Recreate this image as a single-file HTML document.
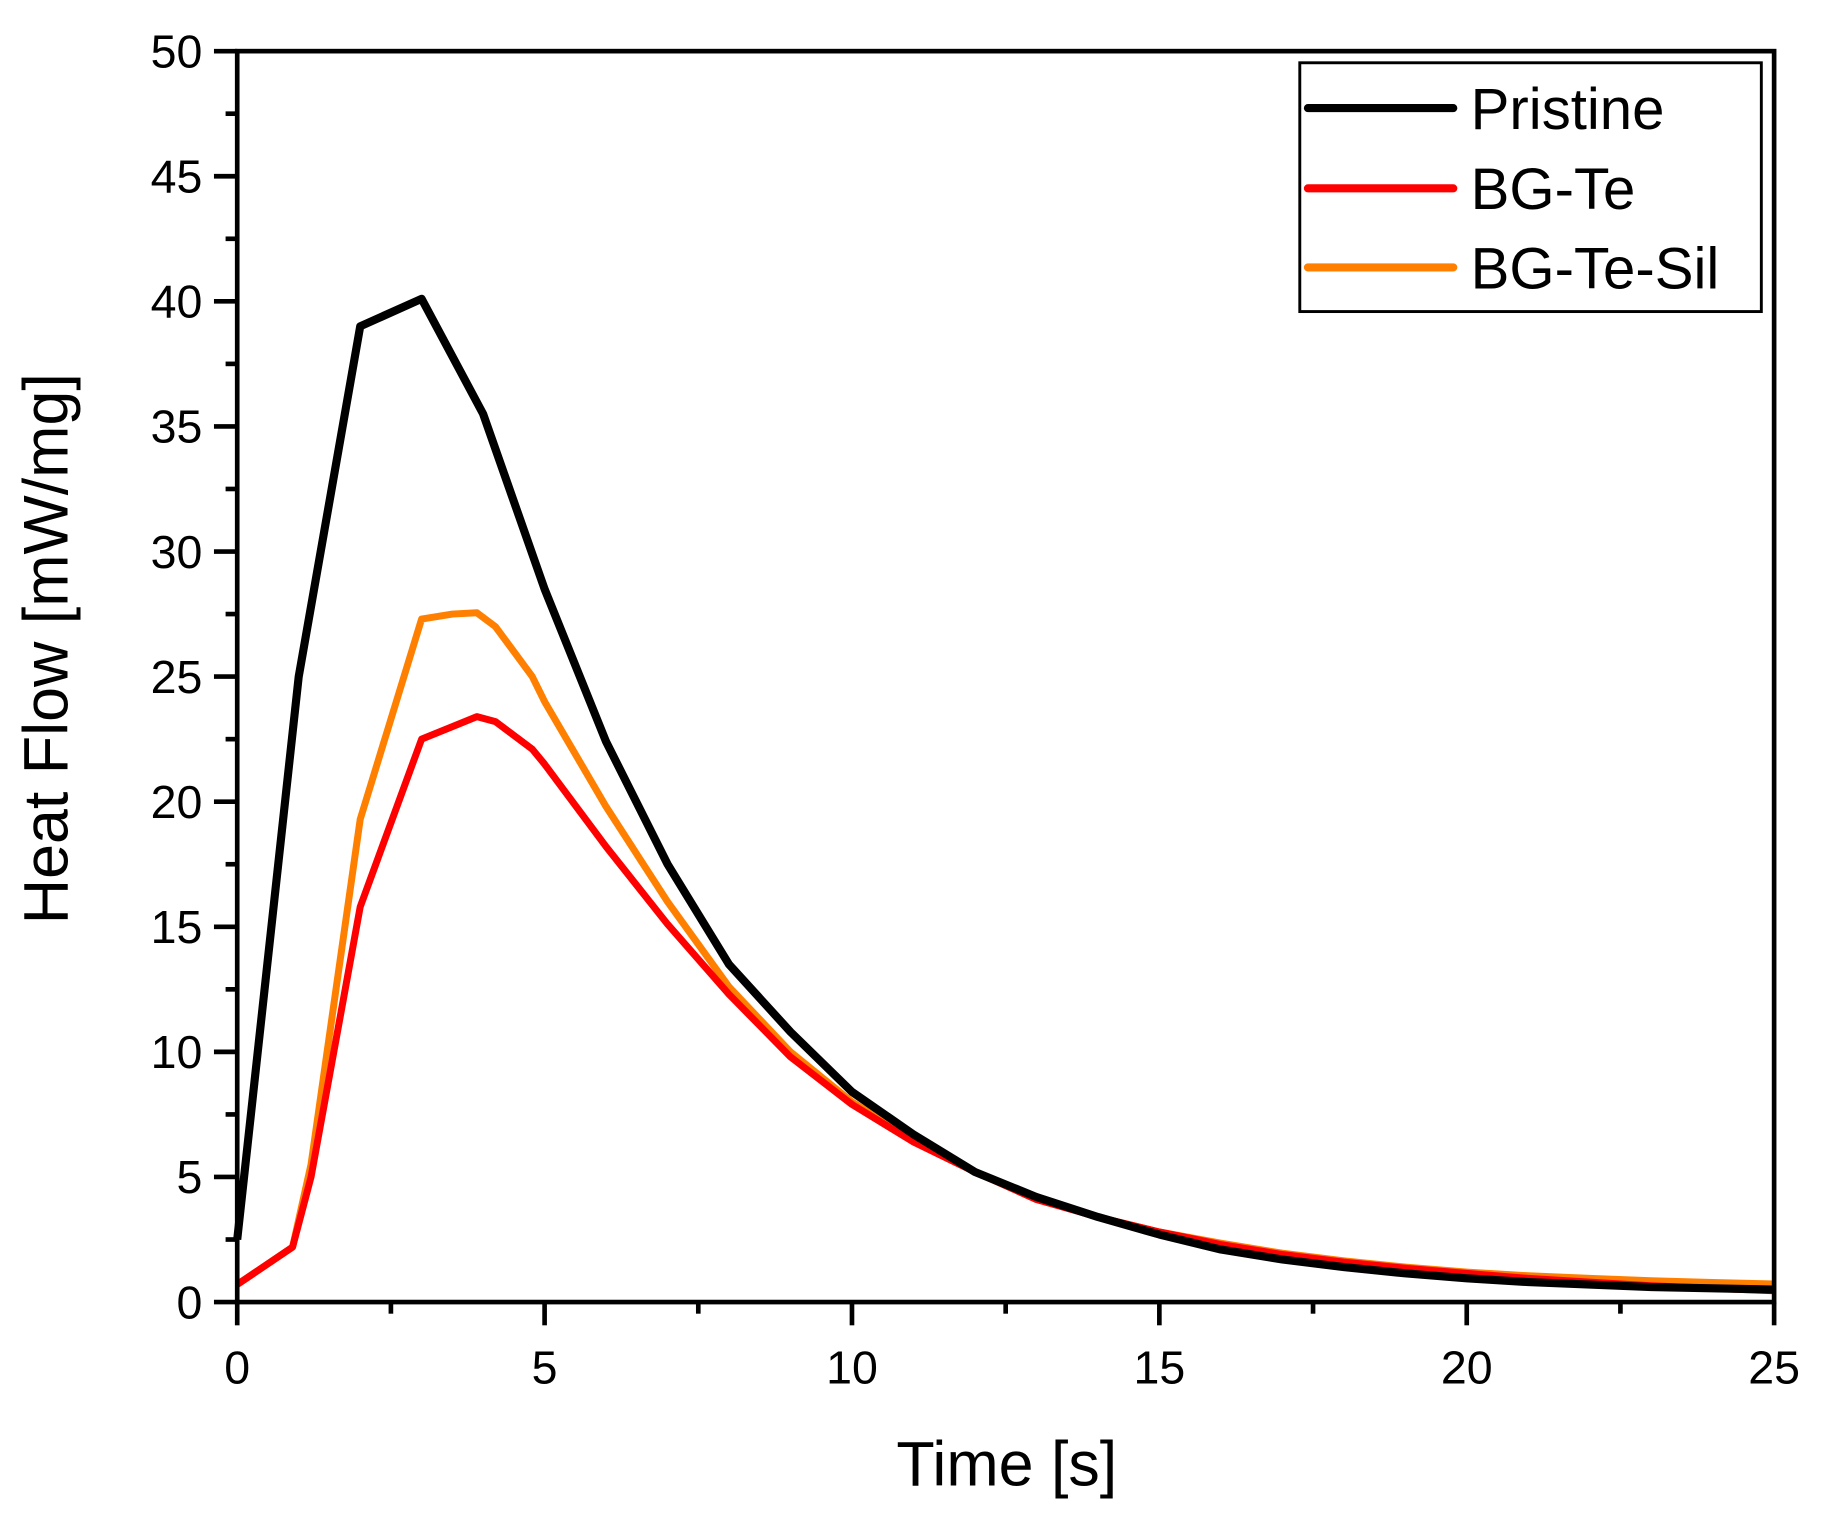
<!DOCTYPE html>
<html><head><meta charset="utf-8"><style>
html,body{margin:0;padding:0;background:#fff;}
svg{display:block;}
text{font-family:"Liberation Sans",Arial,sans-serif;fill:#000;}
</style></head><body>
<svg id="s" width="1823" height="1519" viewBox="0 0 1568 1306.6" xmlns="http://www.w3.org/2000/svg">
<g id="g"></g>
</svg>
<script>
const X=t=>204+t*52.88, Y=v=>1120-v*21.52;
const P=[[0,2.5],[0.2,7],[1,25],[2,39],[3,40.1],[4,35.5],[5,28.5],[6,22.4],[7,17.5],[8,13.5],[9,10.8],[10,8.4],[11,6.7],[12,5.2],[13,4.2],[14,3.4],[15,2.7],[16,2.1],[17,1.7],[18,1.4],[19,1.15],[20,0.95],[21,0.8],[22,0.7],[23,0.6],[24,0.55],[25,0.5]];
const R=[[0,0.7],[0.9,2.2],[1.2,5],[2,15.8],[3,22.5],[3.5,23],[3.9,23.4],[4.2,23.2],[4.8,22.1],[5,21.5],[6,18.2],[7,15.1],[8,12.3],[9,9.8],[10,7.9],[11,6.4],[12,5.2],[13,4.1],[14,3.4],[15,2.8],[16,2.3],[17,1.9],[18,1.6],[19,1.35],[20,1.15],[21,0.95],[22,0.8],[23,0.65],[24,0.55],[25,0.45]];
const O=[[0,0.7],[0.9,2.2],[1.2,5.5],[2,19.3],[3,27.3],[3.5,27.5],[3.9,27.55],[4.2,27],[4.8,25],[5,24],[6,19.8],[7,16],[8,12.6],[9,10],[10,8],[11,6.5],[12,5.2],[13,4.2],[14,3.4],[15,2.8],[16,2.35],[17,1.95],[18,1.65],[19,1.4],[20,1.2],[21,1.05],[22,0.95],[23,0.85],[24,0.78],[25,0.72]];
const pth=(d,c,w)=>`<polyline fill="none" stroke="${c}" stroke-width="${w}" stroke-linejoin="round" points="${d.map(p=>X(p[0]).toFixed(1)+','+Y(p[1]).toFixed(1)).join(' ')}"/>`;
let h='';
h+=pth(O,'#ff8000',6)+pth(R,'#ff0000',6)+pth(P,'#000',7);
h+='<rect x="204" y="44" width="1322" height="1076" fill="none" stroke="#000" stroke-width="4"/>';
for(let i=0;i<=10;i++){let y=Y(i*5);h+=`<line x1="184" x2="204" y1="${y}" y2="${y}" stroke="#000" stroke-width="4"/>`;h+=`<text x="174" y="${y+14}" font-size="40" text-anchor="end">${i*5}</text>`;if(i<10){let ym=Y(i*5+2.5);h+=`<line x1="194" x2="204" y1="${ym}" y2="${ym}" stroke="#000" stroke-width="4"/>`;}}
for(let i=0;i<=5;i++){let x=X(i*5);h+=`<line x1="${x}" x2="${x}" y1="1120" y2="1140" stroke="#000" stroke-width="4"/>`;h+=`<text x="${x}" y="1190" font-size="40" text-anchor="middle">${i*5}</text>`;if(i<5){let xm=X(i*5+2.5);h+=`<line x1="${xm}" x2="${xm}" y1="1120" y2="1130" stroke="#000" stroke-width="4"/>`;}}
h+='<text x="866" y="1278" font-size="54" text-anchor="middle">Time [s]</text>';
h+='<text transform="translate(58,558) rotate(-90)" font-size="54" text-anchor="middle">Heat Flow [mW/mg]</text>';
h+='<rect x="1118" y="54" width="397" height="214" fill="#fff" stroke="#000" stroke-width="2.5"/>';
[['Pristine','#000',93],['BG-Te','#ff0000',162],['BG-Te-Sil','#ff8000',230]].forEach(([t,c,y])=>{h+=`<line x1="1125" x2="1250" y1="${y}" y2="${y}" stroke="${c}" stroke-width="7" stroke-linecap="round"/>`;h+=`<text x="1265" y="${y+18}" font-size="50">${t}</text>`;});
document.getElementById('g').innerHTML=h;
</script>
</body></html>
